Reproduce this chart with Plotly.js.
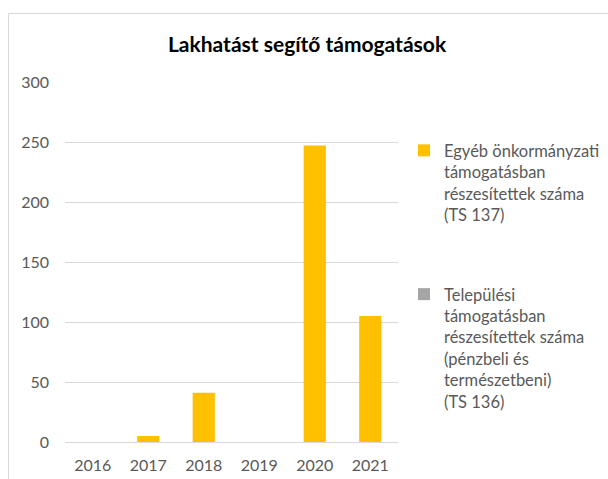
<!DOCTYPE html>
<html>
<head>
<meta charset="utf-8">
<script src="https://cdn.plot.ly/plotly-3.0.1.min.js"></script>
<style>
  body { margin: 0; background: #fff; }
  #wrap { position: relative; width: 608px; height: 479px; overflow: hidden; }
  #chart { position: absolute; left: 0; top: 0; width: 608px; height: 479px; }
  #frame { position: absolute; left: 8px; top: 13px; width: 700px; height: 600px;
           border: 1px solid #d9d9d9; pointer-events: none; }
</style>
</head>
<body>
<div id="wrap">
  <div id="chart"></div>
  <div id="frame"></div>
</div>
<script>
const years = ['2016', '2017', '2018', '2019', '2020', '2021'];
const egyebValues = [0, 5, 41, 0, 247, 105];
const telepulesiValues = [0, 0, 0, 0, 0, 0];
const egyebName = 'Egyéb önkormányzati<br>támogatásban<br>részesítettek száma<br>(TS 137)';
const telepulesiName = 'Települési<br>támogatásban<br>részesítettek száma<br>(pénzbeli és<br>természetbeni)<br>(TS 136)';
const chartTitle = 'Lakhatást segítő támogatások';
const yTicks = [0, 50, 100, 150, 200, 250, 300];

const fontFam = 'Lato, "Open Sans", sans-serif';

const traces = [
  {
    type: 'bar', x: years, y: egyebValues, name: egyebName,
    marker: { color: '#ffc000', line: { width: 0 } },
    legendgroup: 'a', hoverinfo: 'x+y'
  },
  {
    type: 'bar', x: years, y: telepulesiValues, name: telepulesiName,
    marker: { color: '#a5a5a5', line: { width: 0 } },
    legendgroup: 'b', hoverinfo: 'x+y'
  }
];

const layout = {
  width: 608, height: 479,
  margin: { l: 65, r: 210, t: 82, b: 37, autoexpand: false },
  paper_bgcolor: '#ffffff', plot_bgcolor: '#ffffff',
  barmode: 'overlay',
  bargap: 0.6,
  font: { family: fontFam, color: '#595959', size: 16 },
  title: {
    text: '<b>' + chartTitle + '</b>',
    font: { family: fontFam, size: 21, color: '#000000' },
    x: 0.505, xanchor: 'center', xref: 'container',
    y: 1 - 45 / 479, yanchor: 'middle', yref: 'container'
  },
  xaxis: {
    type: 'category',
    showgrid: false, showline: false, zeroline: false,
    ticks: '', tickfont: { size: 16, color: '#595959', family: fontFam },
    ticklabelstandoff: 12,
    automargin: false,
    fixedrange: true
  },
  yaxis: {
    range: [0, 300],
    tickvals: yTicks,
    showgrid: true, gridcolor: '#d9d9d9', gridwidth: 1,
    zeroline: true, zerolinecolor: '#d9d9d9', zerolinewidth: 1,
    showline: false, ticks: '',
    tickfont: { size: 16, color: '#595959', family: fontFam },
    ticklabelstandoff: 15,
    automargin: false,
    fixedrange: true
  },
  showlegend: true,
  legend: {
    x: 1.018, xanchor: 'left',
    y: 0.858, yanchor: 'top',
    traceorder: 'grouped',
    tracegroupgap: 55,
    valign: 'top',
    font: { size: 16.5, color: '#595959', family: fontFam },
    bgcolor: 'rgba(0,0,0,0)'
  }
};

Plotly.newPlot('chart', traces, layout, { displayModeBar: false, staticPlot: true });
</script>
</body>
</html>
